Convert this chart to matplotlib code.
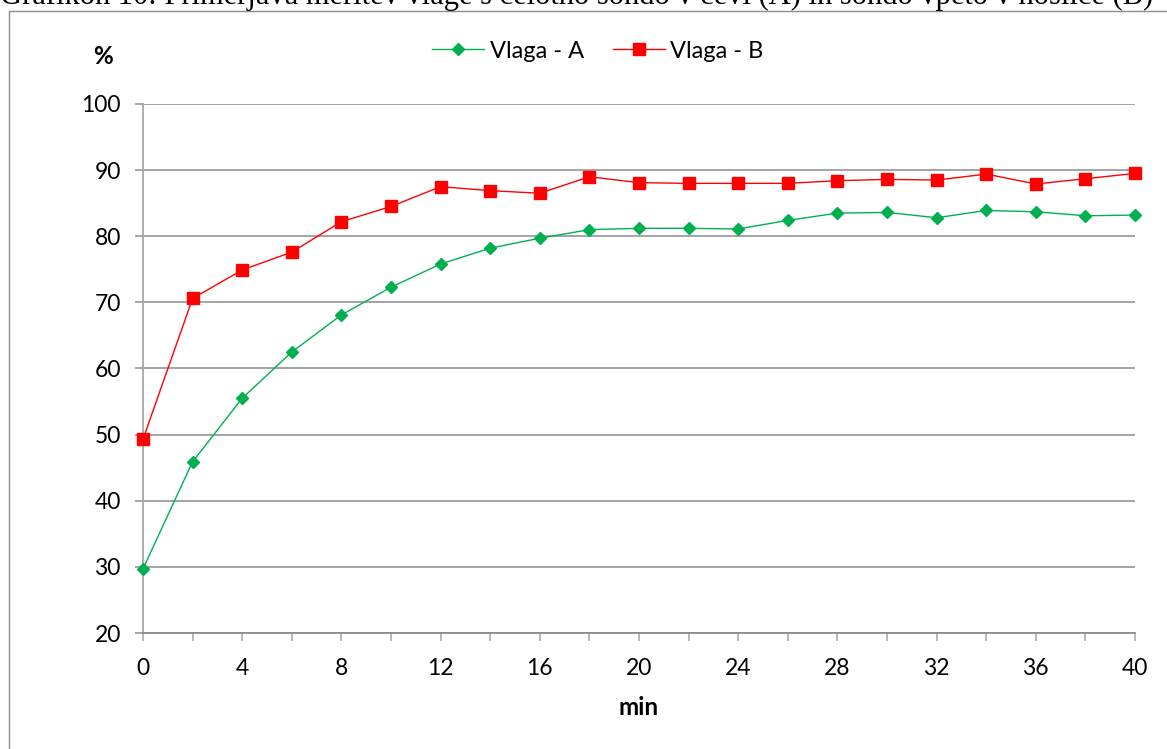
import matplotlib
matplotlib.use("Agg")
import matplotlib.pyplot as plt
from matplotlib.patches import Rectangle
from matplotlib.ticker import MultipleLocator

# minutes and humidity readings (%)
minutes = [0, 2, 4, 6, 8, 10, 12, 14, 16, 18, 20, 22, 24, 26, 28, 30, 32, 34, 36, 38, 40]
vlaga_a = [29.7, 45.9, 55.5, 62.5, 68.1, 72.3, 75.8, 78.2, 79.7, 81.0, 81.2,
           81.2, 81.1, 82.4, 83.5, 83.6, 82.8, 83.9, 83.7, 83.1, 83.2]
vlaga_b = [49.3, 70.6, 74.9, 77.6, 82.2, 84.5, 87.5, 86.9, 86.5, 89.0, 88.1,
           88.0, 88.0, 88.0, 88.4, 88.6, 88.5, 89.4, 87.9, 88.7, 89.5]

W, H = 1167, 749
fig = plt.figure(figsize=(W / 100, H / 100), dpi=100)
ax = fig.add_axes([143 / W, (H - 633) / H, (1135 - 143) / W, (633 - 104) / H])

# caption of the document, mostly cut off at the top
fig.text(0.0, 1 - 4 / H, "Grafikon 10: Primerjava meritev vlage s celotno sondo v cevi (A) in sondo vpeto v nosilce (B)",
         family="Liberation Serif", fontsize=22, ha="left", va="baseline")

# outer chart border
fig.patches.append(Rectangle((9 / W, -0.01), 1.2, (H - 11) / H + 0.01, transform=fig.transFigure,
                             fill=False, edgecolor="#8c8c8c", linewidth=1.0))

ax.plot(minutes, vlaga_a, color="#00B050", marker="D", markersize=6.5, linewidth=1.0,
        label="Vlaga - A", zorder=3, clip_on=False)
ax.plot(minutes, vlaga_b, color="#FF0000", marker="s", markersize=8.3, linewidth=1.0,
        label="Vlaga - B", zorder=4, clip_on=False)

ax.set_xlim(0, 40)
ax.set_ylim(20, 100)
ax.xaxis.set_major_locator(MultipleLocator(4))
ax.xaxis.set_minor_locator(MultipleLocator(2))
ax.yaxis.set_major_locator(MultipleLocator(10))

ax.grid(axis="y", color="#8c8c8c", linewidth=1.1)
ax.set_axisbelow(True)
for s in ["top", "right"]:
    ax.spines[s].set_visible(False)
ax.spines["left"].set_color("#a6a6a6")
ax.spines["bottom"].set_color("#8c8c8c")
ax.spines["left"].set_linewidth(1.3)
ax.spines["bottom"].set_linewidth(1.3)

ax.tick_params(axis="both", which="both", direction="out", length=6, width=1.1,
               color="#a6a6a6", labelsize=16.5)
ax.tick_params(axis="y", color="#8c8c8c", pad=10)
ax.tick_params(axis="x", pad=12)
for lab in ax.get_xticklabels() + ax.get_yticklabels():
    lab.set_family("Lato")

ax.set_xlabel("min", family="Lato", fontweight="bold", fontsize=17.5, labelpad=12)
fig.text(103 / W, 1 - 57 / H, "%", family="Lato", fontweight="bold", fontsize=17.5,
         ha="center", va="center")

fig.legend(loc="center", bbox_to_anchor=(598 / W, 1 - 51 / H), ncol=2, frameon=False,
           prop={"family": "Lato", "size": 17}, handlelength=2.2, handletextpad=0.25,
           columnspacing=1.2, markerscale=1.0)

fig.savefig("out.png", dpi=100)
